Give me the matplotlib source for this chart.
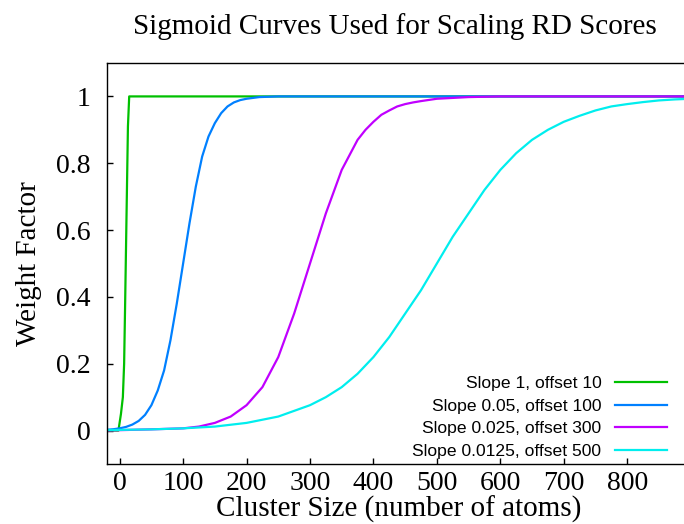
import numpy as np
import matplotlib.pyplot as plt
from matplotlib.ticker import FuncFormatter

# values
x_green = [-20, -2, 2, 5, 7, 8.5, 10, 11.5, 13, 15, 900]
y_green = [0, 0, 0.05, 0.1, 0.2, 0.37, 0.55, 0.73, 0.91, 1.0, 1.0]

x_blue = [-20, -10, 0, 10, 20, 30, 40, 50, 60, 70, 80, 90, 100, 110, 120, 130,
          140, 150, 160, 170, 180, 190, 200, 220, 250, 900]
y_blue = [0.0025, 0.004, 0.0067, 0.011, 0.018, 0.029, 0.047, 0.076, 0.12, 0.18,
          0.27, 0.38, 0.5, 0.62, 0.73, 0.82, 0.88, 0.92, 0.95, 0.97, 0.982,
          0.989, 0.993, 0.998, 1.0, 1.0]

x_purple = [-20, 50, 100, 125, 150, 175, 200, 225, 250, 275, 300, 325, 350,
            375, 387.5, 400, 412.5, 425, 437.5, 450, 462.5, 475, 500, 550,
            600, 900]
y_purple = [0.0003, 0.0037, 0.0067, 0.012, 0.023, 0.042, 0.076, 0.13, 0.22,
            0.35, 0.5, 0.65, 0.78, 0.87, 0.90, 0.924, 0.945, 0.958, 0.97,
            0.977, 0.982, 0.986, 0.993, 0.998, 1.0, 1.0]

x_cyan = [-20, 50, 100, 150, 200, 250, 300, 325, 350, 375, 400, 425, 450, 475,
          500, 525, 550, 575, 600, 625, 650, 675, 700, 725, 750, 775, 800,
          825, 850, 875, 900]
y_cyan = [0.0015, 0.0036, 0.0067, 0.012, 0.023, 0.042, 0.076, 0.1, 0.13, 0.17,
          0.22, 0.28, 0.35, 0.42, 0.5, 0.58, 0.65, 0.72, 0.78, 0.83, 0.87,
          0.9, 0.924, 0.942, 0.958, 0.97, 0.977, 0.983, 0.988, 0.991, 0.993]

labels = ["Slope 1, offset 10", "Slope 0.05, offset 100",
          "Slope 0.025, offset 300", "Slope 0.0125, offset 500"]
x_ticks = [0, 100, 200, 300, 400, 500, 600, 700, 800]
y_ticks = [0, 0.2, 0.4, 0.6, 0.8, 1]

serif = "Liberation Serif"
fig = plt.figure(figsize=(6.84, 5.24), dpi=100)
ax = fig.add_axes([107 / 684, 60 / 524, 583.6 / 684, 401 / 524])

ax.plot(x_green, y_green, color="#00c000", lw=1.6, label=labels[0])
ax.plot(x_blue, y_blue, color="#0080ff", lw=1.6, label=labels[1])
ax.plot(x_purple, y_purple, color="#c000ff", lw=1.6, label=labels[2])
ax.plot(x_cyan, y_cyan, color="#00eeee", lw=1.6, label=labels[3])

ax.set_xlim(-20, 900)
ax.set_ylim(-0.1, 1.1)
ax.set_xticks(x_ticks)
ax.set_yticks(y_ticks)
ax.yaxis.set_major_formatter(FuncFormatter(lambda v, p: "%g" % v))
ax.tick_params(direction="in", length=4, width=1, labelsize=20)
ax.tick_params(axis="y", pad=12)
ax.tick_params(axis="x", pad=5)
for t in ax.get_xticklabels() + ax.get_yticklabels():
    t.set_fontfamily(serif)
ax.spines["right"].set_visible(False)
for s in ["left", "top", "bottom"]:
    ax.spines[s].set_linewidth(1)

ax.set_xlabel("Cluster Size (number of atoms)", fontsize=21, family=serif, labelpad=0)
ax.set_ylabel("Weight Factor", fontsize=21, family=serif, labelpad=10)
fig.text(395 / 684, 1 - 27 / 524, "Sigmoid Curves Used for Scaling RD Scores",
         fontsize=21, family=serif, ha="center", va="center")

leg = ax.legend(loc="lower right", bbox_to_anchor=(681 / 684, 51 / 524),
                bbox_transform=fig.transFigure, frameon=False, markerfirst=False,
                prop={"family": "Liberation Sans", "size": 12.6},
                handlelength=3.0, handletextpad=0.75, labelspacing=0.42,
                borderpad=0.3)
for t in leg.get_texts():
    t.set_ha("right")

fig.savefig("out.png", dpi=100)
